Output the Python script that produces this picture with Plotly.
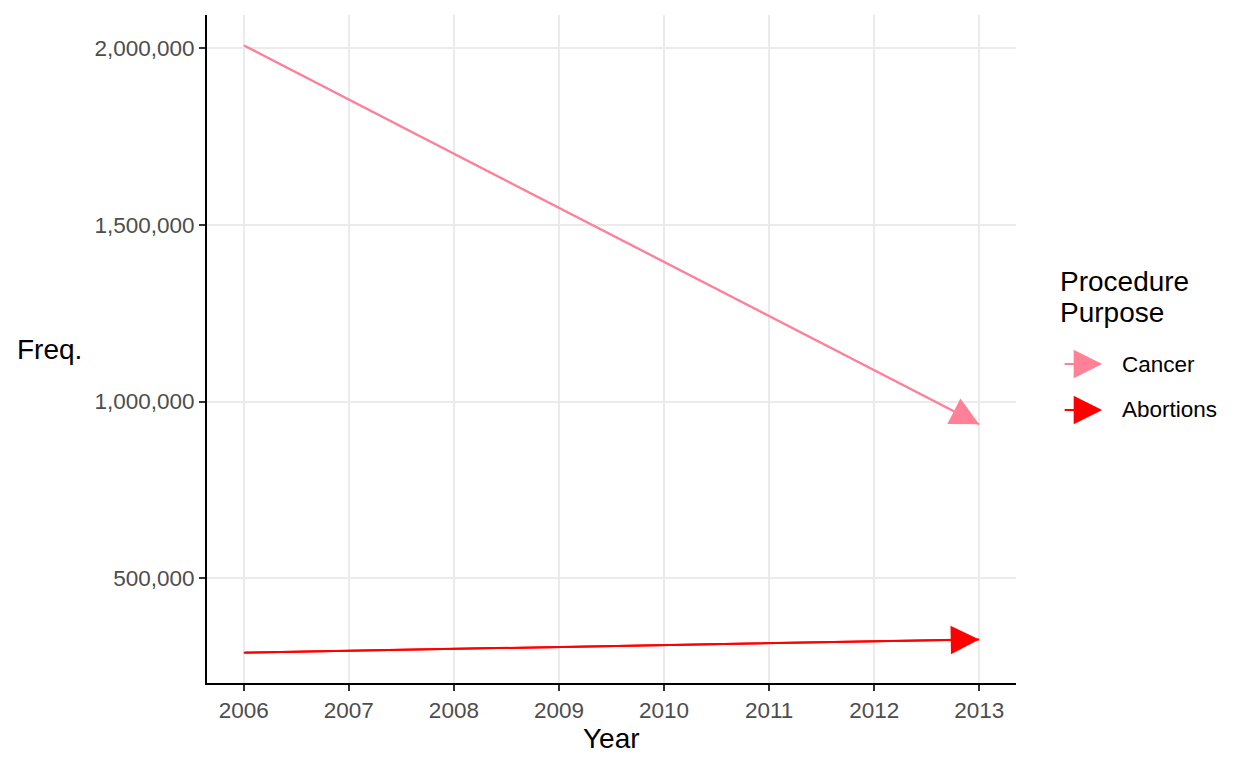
import plotly.graph_objects as go

# ---- data ----
years = [2006, 2013]
cancer = [2007371, 935573]
abortions = [289750, 327166]
series_names = ["Cancer", "Abortions"]
series_colors = ["#FF8198", "#FF0000"]
y_ticks = [500000, 1000000, 1500000, 2000000]
y_tick_labels = ["500,000", "1,000,000", "1,500,000", "2,000,000"]
x_ticks = list(range(2006, 2014))

series = [cancer, abortions]

FONT = "Liberation Sans, Arial, sans-serif"
TICK_SIZE = 22.5
TITLE_SIZE = 28

# ggplot-like 5% expansion of data range
all_y = cancer + abortions
ymin, ymax = min(all_y), max(all_y)
ypad = (ymax - ymin) * 0.05
xpad = (years[-1] - years[0]) * 0.05

fig = go.Figure()
annotations = []
for name, vals, col in zip(series_names, series, series_colors):
    fig.add_trace(go.Scatter(
        x=years, y=vals, mode="lines", name=name,
        line=dict(color=col, width=2), showlegend=False,
        hovertemplate=name + ": %{y:,}<extra>%{x}</extra>"))
    annotations.append(dict(
        x=years[-1], y=vals[-1], xref="x", yref="y",
        ax=years[0], ay=vals[0], axref="x", ayref="y",
        text="", showarrow=True, arrowhead=2, arrowsize=2.85,
        arrowwidth=2, arrowcolor=col, standoff=0))

# axis titles
annotations.append(dict(text="Freq.", xref="paper", yref="paper",
                        x=-0.237, y=0.5, xanchor="left", yanchor="middle",
                        showarrow=False,
                        font=dict(family=FONT, size=TITLE_SIZE, color="black")))
annotations.append(dict(text="Year", xref="paper", yref="paper",
                        x=0.5, y=-0.083, xanchor="center", yanchor="middle",
                        showarrow=False,
                        font=dict(family=FONT, size=TITLE_SIZE, color="black")))

# manual legend (ggplot style)
annotations.append(dict(text="Procedure", xref="paper", yref="paper",
                        x=1.052, y=0.6015, xanchor="left", yanchor="middle",
                        showarrow=False,
                        font=dict(family=FONT, size=TITLE_SIZE, color="black")))
annotations.append(dict(text="Purpose", xref="paper", yref="paper",
                        x=1.052, y=0.555, xanchor="left", yanchor="middle",
                        showarrow=False,
                        font=dict(family=FONT, size=TITLE_SIZE, color="black")))
legend_y = [0.4775, 0.4087]
for name, col, ly in zip(series_names, series_colors, legend_y):
    annotations.append(dict(x=1.1065, y=ly, xref="paper", yref="paper",
                            ax=-39, ay=0, text="", showarrow=True,
                            arrowhead=2, arrowsize=2.85, arrowwidth=2,
                            arrowcolor=col, standoff=0))
    annotations.append(dict(text=name, xref="paper", yref="paper",
                            x=1.1285, y=ly, xanchor="left", yanchor="middle",
                            showarrow=False,
                            font=dict(family=FONT, size=TICK_SIZE, color="black")))

# page body has an 8px margin, so the figure is drawn 8px in from the corner
fig.update_layout(
    width=1240, height=760,
    margin=dict(l=199, r=232, t=7, b=85),
    paper_bgcolor="white", plot_bgcolor="white",
    font=dict(family=FONT, size=TICK_SIZE, color="#4D4D4D"),
    showlegend=False,
    annotations=annotations,
    xaxis=dict(
        range=[years[0] - xpad, years[-1] + xpad],
        tickmode="array", tickvals=x_ticks,
        ticktext=[str(v) for v in x_ticks],
        showgrid=True, gridcolor="#EBEBEB", gridwidth=2,
        showline=True, linecolor="black", linewidth=2,
        ticks="outside", ticklen=6, tickwidth=2, tickcolor="#333333",
        tickfont=dict(family=FONT, size=TICK_SIZE, color="#4D4D4D"),
        zeroline=False),
    yaxis=dict(
        range=[ymin - ypad, ymax + ypad],
        tickmode="array", tickvals=y_ticks, ticktext=y_tick_labels,
        showgrid=True, gridcolor="#EBEBEB", gridwidth=2,
        showline=True, linecolor="black", linewidth=2,
        ticks="outside", ticklen=6, tickwidth=2, tickcolor="#333333",
        tickfont=dict(family=FONT, size=TICK_SIZE, color="#4D4D4D"),
        zeroline=False),
)

fig.write_html("out.html")
